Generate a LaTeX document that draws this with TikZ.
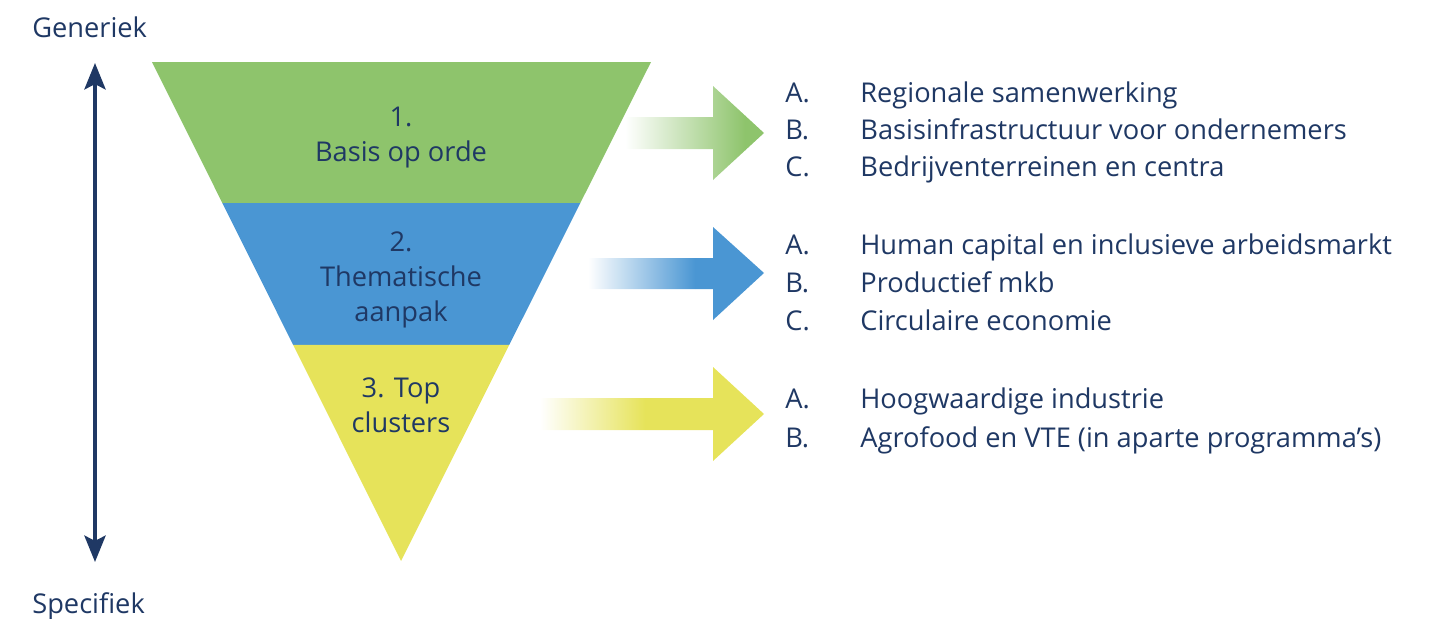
\documentclass[tikz,border=0pt]{standalone}
\usepackage{fontspec}
\setmainfont{Open Sans}
\usetikzlibrary{arrows.meta,calc}
\definecolor{navy}{HTML}{1F3864}
\definecolor{cgreen}{HTML}{8EC46C}
\definecolor{cblue}{HTML}{4A96D3}
\definecolor{cyellow}{HTML}{E6E35A}
\tikzset{
  txt/.style={font=\fontsize{15.5}{18}\selectfont, text=navy, inner sep=0pt},
  lbl/.style={txt, anchor=base west},
  ctr/.style={txt, anchor=base},
}
\begin{document}
\begin{tikzpicture}[x=0.02cm,y=-0.02cm]
\useasboundingbox (0,0) rectangle (1431,619);
% axis
\node[lbl] (gen) at (32,37) {Generiek};
\node[lbl] (spec) at (32,613) {Specifiek};
\coordinate (atop) at (95,63);
\coordinate (abot) at (95,562);
\draw[navy, line width=2.3pt, {Stealth[length=15pt,width=12pt,inset=3pt]}-{Stealth[length=15pt,width=12pt,inset=3pt]}] (atop) -- (abot);
% funnel
\coordinate (tl) at (152,62);
\coordinate (tr) at (651,62);
\coordinate (ap) at (401,561);
\fill[cgreen] (152,62) -- (651,62) -- ($(tr)!0.2826!(ap)$) -- ($(tl)!0.2826!(ap)$) -- cycle;
\fill[cblue] ($(tl)!0.2826!(ap)$) -- ($(tr)!0.2826!(ap)$) -- ($(tr)!0.5671!(ap)$) -- ($(tl)!0.5671!(ap)$) -- cycle;
\fill[cyellow] ($(tl)!0.5671!(ap)$) -- ($(tr)!0.5671!(ap)$) -- (ap) -- cycle;
\node[ctr] (t1a) at (401,126) {1.};
\node[ctr] (t1b) at (401,161) {Basis op orde};
\node[ctr] (t2a) at (401,251) {2.};
\node[ctr] (t2b) at (401,286) {Thematische};
\node[ctr] (t2c) at (401,321) {aanpak};
\node[ctr] (t3a) at (401,397) {3. Top};
\node[ctr] (t3b) at (401,432) {clusters};
% arrows
\begin{scope}
\clip (623,117) -- (713,117) -- (713,86) -- (764,133) -- (713,180) -- (713,149) -- (623,149) -- cycle;
\shade[left color=white, right color=cgreen] (625,80) rectangle (745,190);
\fill[cgreen] (745,80) rectangle (770,190);
\end{scope}
\begin{scope}
\clip (552,258) -- (713,258) -- (713,227) -- (764,273) -- (713,320) -- (713,289) -- (552,289) -- cycle;
\shade[left color=white, right color=cblue] (588,220) rectangle (695,330);
\fill[cblue] (695,220) rectangle (770,330);
\end{scope}
\begin{scope}
\clip (483,398) -- (713,398) -- (713,367) -- (764,414) -- (713,461) -- (713,430) -- (483,430) -- cycle;
\shade[left color=white, right color=cyellow] (540,360) rectangle (645,470);
\fill[cyellow] (645,360) rectangle (770,470);
\end{scope}
% lists
\node[lbl] (l1a) at (785,102) {A.};
\node[lbl] (l1b) at (785,139) {B.};
\node[lbl] (l1c) at (785,176) {C.};
\node[lbl] (r1a) at (860,102) {Regionale samenwerking};
\node[lbl] (r1b) at (860,139) {Basisinfrastructuur voor ondernemers};
\node[lbl] (r1c) at (860,176) {Bedrijventerreinen en centra};
\node[lbl] (l2a) at (785,254) {A.};
\node[lbl] (l2b) at (785,292) {B.};
\node[lbl] (l2c) at (785,330) {C.};
\node[lbl] (r2a) at (860,254) {Human capital en inclusieve arbeidsmarkt};
\node[lbl] (r2b) at (860,292) {Productief mkb};
\node[lbl] (r2c) at (860,330) {Circulaire economie};
\node[lbl] (l3a) at (785,408) {A.};
\node[lbl] (l3b) at (785,447) {B.};
\node[lbl] (r3a) at (860,408) {Hoogwaardige industrie};
\node[lbl] (r3b) at (860,447) {Agrofood en VTE (in aparte programma’s)};
\end{tikzpicture}
\end{document}
